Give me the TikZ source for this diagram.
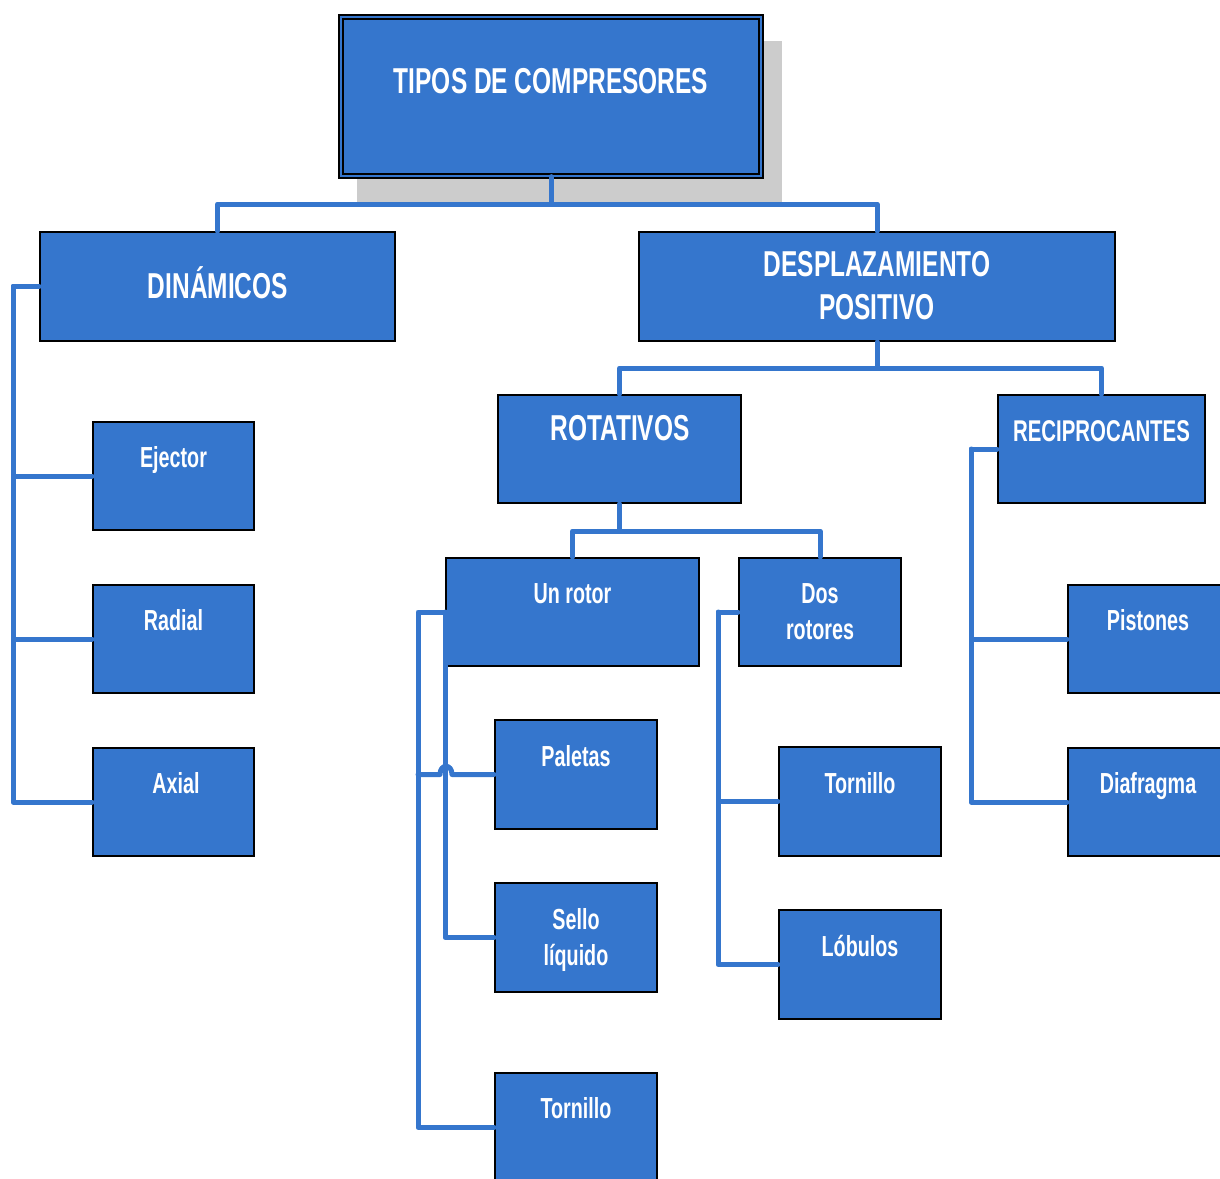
\documentclass[tikz,border=0pt]{standalone}
\usepackage{fontspec}
\setmainfont{Liberation Sans}[FakeStretch=0.68]
\definecolor{boxblue}{RGB}{53,118,205}
\definecolor{shadowgray}{RGB}{204,204,204}
\tikzset{
  conn/.style={draw=boxblue, line width=5pt, line join=round, line cap=round},
  bbox/.style={draw=black, line width=2pt, fill=boxblue, inner sep=0pt},
  bigtxt/.style={text=white, inner sep=0pt, anchor=base, font=\bfseries\fontsize{36pt}{36pt}\selectfont},
  midtxt/.style={text=white, inner sep=0pt, anchor=base, font=\bfseries\fontsize{30pt}{30pt}\selectfont},
  smalltxt/.style={text=white, inner sep=0pt, anchor=base, font=\bfseries\fontsize{29pt}{29pt}\selectfont},
}
\begin{document}
\begin{tikzpicture}[x=1pt,y=-1pt]
\useasboundingbox (0,0) rectangle (1220,1178);
\clip (0,0) rectangle (1220,1178);
% shadow of top box
\fill[shadowgray] (357,41) rectangle (782,204);
% top box
\node[draw=black, line width=1.3pt, double=boxblue, double distance=2.6pt, fill=boxblue, inner sep=0pt,
      minimum width=420pt, minimum height=159pt] (top) at (551,96.5) {};
% level 1
\node[bbox, minimum width=355pt, minimum height=109pt] (din) at (217.5,286.5) {};
\node[bbox, minimum width=476pt, minimum height=109pt] (desp) at (877,286.5) {};
% level 2
\node[bbox, minimum width=243pt, minimum height=108pt] (rot) at (619.5,449) {};
\node[bbox, minimum width=207pt, minimum height=108pt] (rec) at (1101.5,449) {};
% level 3
\node[bbox, minimum width=253pt, minimum height=108pt] (unr) at (572.5,612) {};
\node[bbox, minimum width=162pt, minimum height=108pt] (dos) at (820,612) {};
% dinamicos children
\node[bbox, minimum width=161pt, minimum height=108pt] (eje) at (173.5,476) {};
\node[bbox, minimum width=161pt, minimum height=108pt] (rad) at (173.5,639) {};
\node[bbox, minimum width=161pt, minimum height=108pt] (axi) at (173.5,802) {};
% un rotor children
\node[bbox, minimum width=162pt, minimum height=109pt] (pal) at (576,774.5) {};
\node[bbox, minimum width=162pt, minimum height=109pt] (sel) at (576,937.5) {};
\node[bbox, minimum width=162pt, minimum height=109pt] (torA) at (576,1127.5) {};
% dos rotores children
\node[bbox, minimum width=162pt, minimum height=109pt] (torB) at (860,801.5) {};
\node[bbox, minimum width=162pt, minimum height=109pt] (lob) at (860,964.5) {};
% reciprocantes children
\node[bbox, minimum width=162pt, minimum height=108pt] (pis) at (1149,639) {};
\node[bbox, minimum width=162pt, minimum height=108pt] (dia) at (1149,802) {};

% connectors
\coordinate (j1) at (551,204);
\draw[conn] (top.south) -- (j1) -| (din.north);
\draw[conn] (j1) -| (desp.north);
\coordinate (j2) at (877,368);
\draw[conn] (desp.south) -- (j2) -| (rot.north);
\draw[conn] (j2) -| (rec.north);
\coordinate (j3) at (619.5,531);
\draw[conn] (rot.south) -- (j3) -| (unr.north);
\draw[conn] (j3) -| (dos.north);
% dinamicos
\coordinate (dl) at (13,286.5);
\draw[conn] (din.west) -- (dl) |- (axi.west);
\draw[conn] (dl) |- (eje.west);
\draw[conn] (dl) |- (rad.west);
% un rotor
\coordinate (ul) at (418,612);
\draw[conn] (unr.west) |- (sel.west);
\draw[conn] (unr.west) -- (ul) |- (torA.west);
\coordinate (h1) at (440,774.5);
\coordinate (h2) at (452,774.5);
\draw[conn] (ul |- pal.west) -- (h1) .. controls ([yshift=11pt]h1) and ([yshift=11pt]h2) .. (h2) -- (pal.west);
% dos rotores
\coordinate (dr) at (718,612);
\draw[conn] (dos.west) -- (dr) |- (lob.west);
\draw[conn] (dr) |- (torB.west);
% reciprocantes
\coordinate (rl) at (971,449);
\draw[conn] (rec.west) -- (rl) |- (dia.west);
\draw[conn] (rl) |- (pis.west);

% texts
\node[bigtxt] (tTop) at (551,93) {TIPOS DE COMPRESORES};
\node[bigtxt] (tDin) at (218,298) {DINÁMICOS};
\node[bigtxt] (tDesp1) at (877,276) {DESPLAZAMIENTO};
\node[bigtxt] (tDesp2) at (877,319) {POSITIVO};
\node[bigtxt] (tRot) at (620,440) {ROTATIVOS};
\node[midtxt] (tRec) at (1101.5,441) {RECIPROCANTES};
\node[smalltxt] (tUnr) at (572.5,603) {Un rotor};
\node[smalltxt] (tDos1) at (820,603) {Dos};
\node[smalltxt] (tDos2) at (820,639) {rotores};
\node[smalltxt] (tEje) at (173.5,467) {Ejector};
\node[smalltxt] (tRad) at (173.5,630) {Radial};
\node[smalltxt] (tAxi) at (176,793) {Axial};
\node[smalltxt] (tPal) at (576,766) {Paletas};
\node[smalltxt] (tSel1) at (576,929) {Sello};
\node[smalltxt] (tSel2) at (576,965) {líquido};
\node[smalltxt] (tTorA) at (576,1118) {Tornillo};
\node[smalltxt] (tTorB) at (860,793) {Tornillo};
\node[smalltxt] (tLob) at (860,956) {Lóbulos};
\node[smalltxt] (tPis) at (1148,630) {Pistones};
\node[smalltxt] (tDia) at (1148,793) {Diafragma};
\end{tikzpicture}
\end{document}
